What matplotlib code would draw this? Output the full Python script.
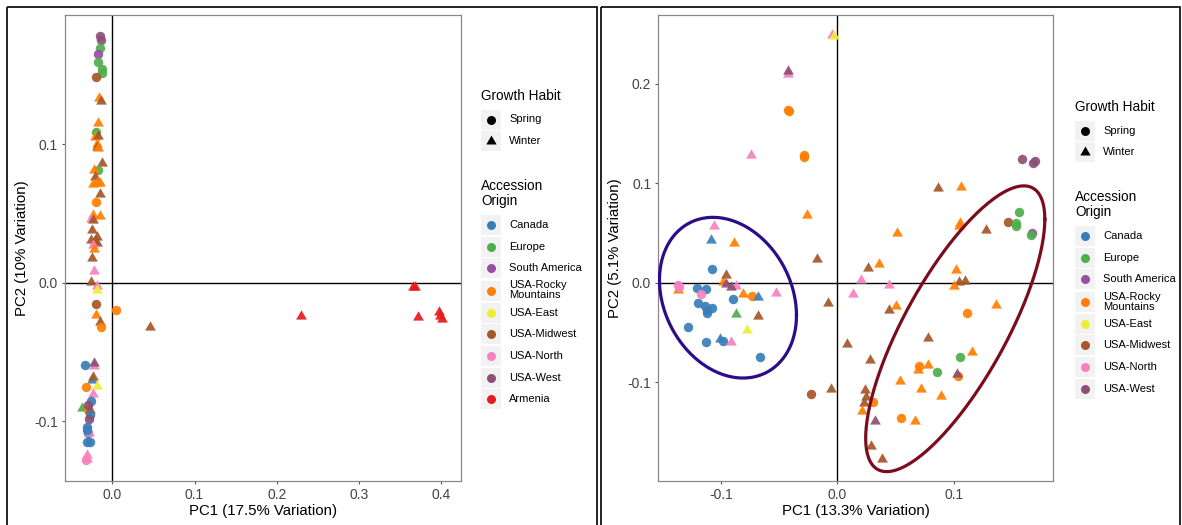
import numpy as np
import matplotlib
matplotlib.use("Agg")
import matplotlib.pyplot as plt
from matplotlib.patches import Rectangle

plt.rcParams['font.family'] = ['Liberation Sans', 'DejaVu Sans']
plt.rcParams['axes.unicode_minus'] = False

# origin codes -> legend name, colour
origin_codes = ["CA", "EU", "SA", "RM", "EA", "MW", "NO", "WE", "AR"]
origin_names = ["Canada", "Europe", "South America", "USA-Rocky\nMountains", "USA-East",
                "USA-Midwest", "USA-North", "USA-West", "Armenia"]
origin_colors = ["#377EB8", "#4DAF4A", "#984EA3", "#FF7F00", "#EEEE33",
                 "#A65628", "#F781BF", "#8C4F75", "#E41A1C"]
habit_names = ["Spring", "Winter"]

# left panel: all accessions
left_pc1 = [-0.015, -0.014, -0.015, -0.017, -0.017, -0.013, -0.012, -0.020, -0.016, -0.014,
            -0.017, -0.020, -0.021, -0.017, -0.019, -0.018, -0.017, -0.013, -0.017, -0.022,
            -0.021, -0.018, -0.023, -0.015, -0.015, -0.020, -0.024, -0.015, -0.026, -0.023,
            -0.025, -0.019, -0.018, -0.021, -0.026, -0.024, -0.022, -0.025, -0.022, -0.026,
            -0.018, -0.018, -0.020, 0.005, -0.020, -0.015, -0.014, 0.046,
            0.230, 0.366, 0.368, 0.372, 0.397, 0.398, 0.401,
            -0.033, -0.022, -0.022, -0.025, -0.023, -0.032, -0.019, -0.024, -0.026, -0.037,
            -0.029, -0.027, -0.030, -0.027, -0.028, -0.031, -0.029, -0.028, -0.031, -0.031,
            -0.027, -0.031, -0.031, -0.032]
left_pc2 = [0.178, 0.175, 0.169, 0.165, 0.159, 0.154, 0.151, 0.148, 0.133, 0.131,
            0.115, 0.109, 0.105, 0.106, 0.100, 0.098, 0.097, 0.0865, 0.081, 0.081,
            0.0765, 0.072, 0.071, 0.072, 0.064, 0.058, 0.049, 0.048, 0.046, 0.045,
            0.038, 0.033, 0.029, 0.030, 0.031, 0.027, 0.024, 0.018, 0.0086, 0.0007,
            -0.002, -0.0053, -0.0154, -0.020, -0.023, -0.028, -0.032, -0.032,
            -0.024, -0.003, -0.003, -0.025, -0.021, -0.024, -0.026,
            -0.059, -0.060, -0.058, -0.070, -0.068, -0.075, -0.0745, -0.080, -0.085, -0.090,
            -0.092, -0.092, -0.088, -0.095, -0.098, -0.104, -0.108, -0.108, -0.106, -0.115,
            -0.115, -0.124, -0.127, -0.128]
left_origin = ["WE", "WE", "EU", "SA", "EU", "EU", "EU", "MW", "RM", "MW",
               "RM", "EU", "RM", "MW", "RM", "MW", "RM", "MW", "EU", "RM",
               "MW", "RM", "RM", "RM", "MW", "RM", "RM", "RM", "NO", "MW",
               "MW", "MW", "MW", "MW", "MW", "NO", "RM", "MW", "NO", "MW",
               "NO", "EA", "MW", "RM", "RM", "MW", "RM", "MW",
               "AR", "AR", "AR", "AR", "AR", "AR", "AR",
               "CA", "NO", "WE", "CA", "MW", "RM", "EA", "NO", "CA", "EU",
               "RM", "MW", "WE", "CA", "WE", "CA", "CA", "NO", "CA", "CA",
               "CA", "NO", "NO", "NO"]
left_habit = ["S", "S", "S", "S", "S", "S", "S", "S", "W", "W",
              "W", "S", "W", "W", "W", "W", "W", "W", "S", "W",
              "W", "W", "W", "W", "W", "S", "W", "W", "W", "W",
              "W", "W", "W", "W", "W", "W", "W", "W", "W", "W",
              "W", "W", "S", "S", "W", "W", "S", "W",
              "W", "W", "W", "W", "W", "W", "W",
              "S", "W", "W", "W", "W", "S", "W", "W", "S", "W",
              "S", "W", "S", "S", "S", "S", "S", "W", "S", "S",
              "S", "W", "W", "S"]

# right panel: without Armenia
right_pc1 = [-0.0049, -0.0029, -0.042, -0.0422, -0.042, -0.0415, -0.0287, -0.029, -0.0739, -0.0259,
             -0.0172, -0.0078, 0.008, -0.0227, -0.0057, -0.0529, -0.106, -0.109, -0.089, -0.108,
             -0.098, -0.0954, -0.087, -0.096, -0.091, -0.137, -0.137, -0.1365, -0.121, -0.113,
             -0.1175, -0.120, -0.114, -0.1075, -0.112, -0.112, -0.090, -0.081, -0.0733, -0.0684,
             -0.0868, -0.0684, -0.0776, -0.1284, -0.1126, -0.1006, -0.098, -0.0917, -0.0667,
             0.159, 0.168, 0.170, 0.087, 0.1066, 0.1566, 0.1466, 0.1537, 0.154, 0.167,
             0.1667, 0.128, 0.1057, 0.105, 0.0511, 0.0362, 0.0261, 0.0204, 0.0132, 0.0443,
             0.1023, 0.1049, 0.110, 0.100, 0.1365, 0.1115, 0.0443, 0.0506, 0.0784, 0.1158,
             0.1052, 0.070, 0.069, 0.0779, 0.0856, 0.1037, 0.1029, 0.054, 0.0718, 0.0891,
             0.0282, 0.0239, 0.0247, 0.0233, 0.0305, 0.021, 0.0546, 0.0667, 0.0325, 0.0287,
             0.0382]
right_pc2 = [0.249, 0.248, 0.210, 0.2124, 0.174, 0.173, 0.128, 0.126, 0.1285, 0.068,
             0.0235, -0.020, -0.061, -0.1114, -0.1064, -0.010, 0.0574, 0.043, 0.0396, 0.0144,
             0.001, 0.0074, -0.0034, -0.0007, -0.004, -0.0067, -0.002, -0.004, -0.0047, -0.006,
             -0.0107, -0.020, -0.0235, -0.0248, -0.0275, -0.030, -0.0158, -0.0114, -0.0134, -0.0141,
             -0.0309, -0.0336, -0.0477, -0.0443, -0.0594, -0.0567, -0.0584, -0.0594, -0.0745,
             0.124, 0.120, 0.122, 0.0956, 0.0966, 0.0715, 0.0614, 0.0604, 0.057, 0.0497,
             0.0477, 0.053, 0.0604, 0.057, 0.0497, 0.0188, 0.0151, 0.0027, -0.0114, -0.0023,
             0.0134, 0.0007, 0.002, -0.0027, -0.0225, -0.0299, -0.0268, -0.0235, -0.055, -0.0695,
             -0.0745, -0.0839, -0.0872, -0.0829, -0.0896, -0.094, -0.0913, -0.099, -0.1064, -0.1141,
             -0.0779, -0.108, -0.1148, -0.121, -0.1198, -0.1289, -0.1359, -0.1383, -0.1383, -0.1634,
             -0.1768]
right_origin = ["NO", "EA", "NO", "WE", "RM", "RM", "RM", "RM", "NO", "RM",
                "MW", "MW", "MW", "MW", "MW", "NO", "NO", "CA", "RM", "CA",
                "RM", "MW", "NO", "WE", "WE", "RM", "NO", "NO", "CA", "CA",
                "NO", "CA", "CA", "CA", "CA", "CA", "CA", "RM", "RM", "CA",
                "EU", "MW", "EA", "CA", "CA", "CA", "CA", "NO", "CA",
                "WE", "WE", "WE", "MW", "RM", "EU", "MW", "EU", "EU", "SA",
                "EU", "MW", "RM", "RM", "RM", "RM", "MW", "NO", "NO", "NO",
                "RM", "MW", "MW", "RM", "RM", "RM", "MW", "RM", "MW", "RM",
                "EU", "RM", "RM", "RM", "EU", "RM", "WE", "RM", "RM", "RM",
                "MW", "MW", "MW", "MW", "RM", "RM", "RM", "RM", "WE", "MW",
                "MW"]
right_habit = ["W", "W", "W", "W", "S", "S", "S", "S", "W", "W",
               "W", "W", "W", "S", "W", "W", "W", "W", "W", "S",
               "W", "W", "W", "W", "W", "W", "S", "S", "S", "S",
               "S", "S", "S", "S", "S", "S", "S", "W", "S", "W",
               "W", "W", "W", "S", "S", "W", "S", "W", "S",
               "S", "S", "S", "W", "W", "S", "S", "S", "S", "S",
               "S", "W", "W", "W", "W", "W", "W", "W", "W", "W",
               "W", "W", "W", "W", "W", "S", "W", "W", "W", "W",
               "S", "S", "W", "W", "S", "S", "W", "W", "W", "W",
               "W", "W", "W", "W", "S", "W", "S", "W", "W", "W",
               "W"]

# group ellipses on the right panel: centre, radii in x/y, phase
ellipse_center = [(-0.094, -0.0149), (0.1014, -0.0461)]
ellipse_radius = [(0.0589, 0.0807), (0.077, 0.1435)]
ellipse_phase = [1.792, 0.699]
ellipse_colors = ["#2D0C8A", "#7B0C1E"]

TRI = [(0, 1), (-0.866, -0.5), (0.866, -0.5)]
color_of = dict(zip(origin_codes, origin_colors))


def draw_points(ax, pc1, pc2, origin, habit):
    for x, y, o, h in zip(pc1, pc2, origin, habit):
        if h == "S":
            ax.scatter(x, y, s=46, marker="o", color=color_of[o], alpha=0.92,
                       linewidths=0, zorder=3)
        else:
            ax.scatter(x, y, s=80, marker=TRI, color=color_of[o], alpha=0.92,
                       linewidths=0, zorder=3)


def style_axes(ax, xlim, ylim, xticks, yticks, xlabel, ylabel):
    ax.set_xlim(*xlim)
    ax.set_ylim(*ylim)
    ax.axhline(0, color="black", lw=1.0, zorder=2)
    ax.axvline(0, color="black", lw=1.0, zorder=2)
    ax.set_xticks(xticks)
    ax.set_xticklabels(["%.1f" % t for t in xticks])
    ax.set_yticks(yticks)
    ax.set_yticklabels(["%.1f" % t for t in yticks])
    ax.tick_params(length=2.5, width=0.8, color="#555555", labelcolor="#444444",
                   labelsize=10, pad=2.6)
    for sp in ax.spines.values():
        sp.set_color("#888888")
        sp.set_linewidth(0.9)
    ax.set_xlabel(xlabel, fontsize=10.8)
    ax.set_ylabel(ylabel, fontsize=10.8)
    ax.xaxis.set_label_coords(0.5, -0.064)
    ax.xaxis.label.set_verticalalignment("center")
    ax.yaxis.label.set_verticalalignment("center")


def draw_legend(ov, x0, y0, n_origins):
    # x0: left of key boxes (px), y0: centre of first title (px)
    ov.text(x0, y0, "Growth Habit", fontsize=9.8, va="center", ha="left")
    for i, (name, mk, ms) in enumerate(zip(habit_names, ["o", TRI], [42, 74])):
        yk = y0 + 23.5 + i * 21.5
        ov.add_patch(Rectangle((x0, yk - 10), 20, 20, color="#F2F2F2", lw=0))
        ov.scatter(x0 + 10, yk, s=ms, marker=mk, color="black", linewidths=0)
        ov.text(x0 + 28, yk, name, fontsize=8, va="center", ha="left")
    ov.text(x0, y0 + 97.5, "Accession\nOrigin", fontsize=9.8, va="center", ha="left",
            linespacing=1.15)
    yk = y0 + 129
    for i in range(n_origins):
        two_lines = "\n" in origin_names[i]
        if two_lines:
            yk += 0.7
        ov.add_patch(Rectangle((x0, yk - 10), 20, 20, color="#F2F2F2", lw=0))
        ov.scatter(x0 + 10, yk, s=42, marker="o", color=origin_colors[i], linewidths=0)
        ov.text(x0 + 28, yk, origin_names[i], fontsize=8, va="center", ha="left",
                linespacing=1.0)
        yk += 22.3 if two_lines else 21.6


fig = plt.figure(figsize=(11.82, 5.25), dpi=100)

ax1 = fig.add_axes([65 / 1182, 1 - 481 / 525, 396 / 1182, 466 / 525])
draw_points(ax1, left_pc1, left_pc2, left_origin, left_habit)
style_axes(ax1, (-0.0575, 0.424), (-0.1429, 0.193), [0.0, 0.1, 0.2, 0.3, 0.4],
           [-0.1, 0.0, 0.1], "PC1 (17.5% Variation)", "PC2 (10% Variation)")
ax1.yaxis.set_label_coords(-0.109, 0.5)

ax2 = fig.add_axes([658.3 / 1182, 1 - 481 / 525, 395 / 1182, 466 / 525])
draw_points(ax2, right_pc1, right_pc2, right_origin, right_habit)
t = np.linspace(0, 2 * np.pi, 300)
for (cx, cy), (rx, ry), ph, c in zip(ellipse_center, ellipse_radius, ellipse_phase, ellipse_colors):
    ax2.plot(cx + rx * np.cos(t), cy + ry * np.cos(t - ph), color=c, lw=2.3, zorder=4)
style_axes(ax2, (-0.1539, 0.1857), (-0.199, 0.269), [-0.1, 0.0, 0.1],
           [-0.1, 0.0, 0.1, 0.2], "PC1 (13.3% Variation)", "PC2 (5.1% Variation)")
ax2.yaxis.set_label_coords(-0.11, 0.5)

# overlay in pixel coordinates for legends and panel frames
ov = fig.add_axes([0, 0, 1, 1])
ov.set_xlim(0, 1182)
ov.set_ylim(525, 0)
ov.axis("off")
ov.patch.set_alpha(0)
ov.add_patch(Rectangle((7, 7), 590, 530, fill=False, ec="black", lw=1.2))
ov.add_patch(Rectangle((601, 7), 579, 530, fill=False, ec="black", lw=1.2))
draw_legend(ov, 481, 96, 9)
draw_legend(ov, 1075, 107, 8)

fig.savefig("out.png", dpi=100)
